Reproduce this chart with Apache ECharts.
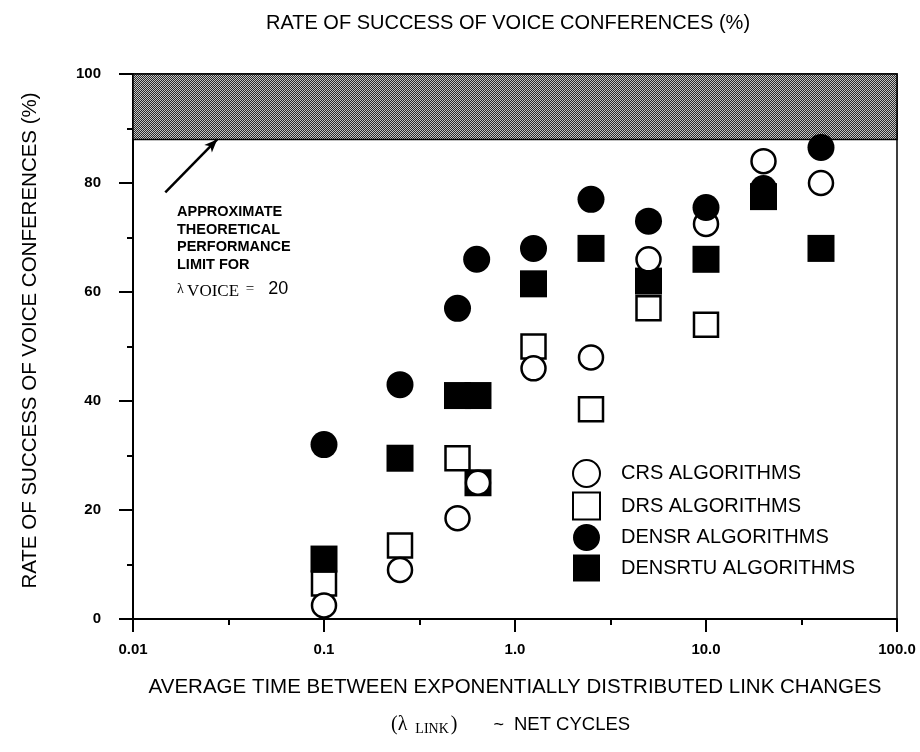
<!DOCTYPE html>
<html>
<head>
<meta charset="utf-8">
<script src="https://cdn.jsdelivr.net/npm/echarts@6/dist/echarts.min.js"></script>
<style>
html,body{margin:0;padding:0;background:#fff;}
#chart{width:920px;height:752px;}
</style>
</head>
<body>
<div id="chart"></div>
<script>
// ---- data ----
const xTickLabels = {0.01: '0.01', 0.1: '0.1', 1: '1.0', 10: '10.0', 100: '100.0'};
const crsX = [0.1, 0.25, 0.5, 0.64, 1.25, 2.5, 5, 10, 20, 40];
const crsY = [2.5, 9, 18.5, 25, 46, 48, 66, 72.5, 84, 80];
const drsX = [0.1, 0.25, 0.5, 1.25, 2.5, 5, 10];
const drsY = [6.5, 13.5, 29.5, 50, 38.5, 57, 54];
const densrX = [0.1, 0.25, 0.5, 0.63, 1.25, 2.5, 5, 10, 20, 40];
const densrY = [32, 43, 57, 66, 68, 77, 73, 75.5, 79, 86.5];
const densrtuX = [0.1, 0.25, 0.5, 0.64, 0.64, 1.25, 2.5, 5, 10, 20, 40];
const densrtuY = [11, 29.5, 41, 41, 25, 61.5, 68, 62, 66, 77.5, 68];
const limitBand = [88, 101];

const pair = (xs, ys) => xs.map((x, i) => [x, ys[i]]);

// dithered pattern for the shaded band
const pc = document.createElement('canvas');
pc.width = 2; pc.height = 2;
const pctx = pc.getContext('2d');
pctx.fillStyle = '#2a2a2a'; pctx.fillRect(0, 0, 2, 2);
pctx.fillStyle = '#c4c4c4';
pctx.fillRect(0, 0, 1, 1); pctx.fillRect(1, 1, 1, 1);

const SANS = '"Liberation Sans", Arial, Helvetica, sans-serif';
const SERIF = '"Liberation Serif", "DejaVu Serif", serif';

const openStyle = {color: '#fff', borderColor: '#000', borderWidth: 2.5, opacity: 1};
const fillStyle = {color: '#000', borderColor: '#000', borderWidth: 0, opacity: 1};

const chart = echarts.init(document.getElementById('chart'), null, {renderer: 'canvas'});
chart.setOption({
  animation: false,
  backgroundColor: '#fff',
  textStyle: {fontFamily: SANS, color: '#000'},
  title: {
    text: 'RATE OF SUCCESS OF VOICE CONFERENCES (%)',
    left: 503, top: 8, textAlign: 'center',
    textStyle: {fontFamily: SANS, fontWeight: 'normal', fontSize: 20, color: '#000'}
  },
  grid: {left: 133, right: 23, top: 74, bottom: 133, show: true, borderColor: '#000', borderWidth: 1.5, backgroundColor: 'transparent'},
  legend: {
    orient: 'vertical', left: 572, top: 459, padding: 0, itemGap: 3.5, itemWidth: 27, itemHeight: 27,
    data: ['CRS ALGORITHMS', 'DRS ALGORITHMS', 'DENSR ALGORITHMS', 'DENSRTU ALGORITHMS'],
    textStyle: {fontFamily: SANS, fontSize: 20, color: '#000', padding: [0, 0, 0, 16]}
  },
  xAxis: [{
    type: 'log', logBase: 10, min: 0.01, max: 100,
    axisLine: {show: true, onZero: false, lineStyle: {color: '#000', width: 2}},
    axisTick: {show: true, inside: false, length: 13, lineStyle: {color: '#000', width: 2}},
    minorTick: {show: false},
    splitLine: {show: false},
    axisLabel: {margin: 23, fontSize: 15, fontWeight: 'bold', color: '#000', fontFamily: SANS,
      formatter: v => xTickLabels[+v.toPrecision(3)] || ''},
    name: 'AVERAGE TIME BETWEEN EXPONENTIALLY DISTRIBUTED LINK CHANGES',
    nameLocation: 'middle', nameGap: 58,
    nameTextStyle: {fontFamily: SANS, fontSize: 20.5, color: '#000'}
  }, {
    // minor ticks at half-decades (log space)
    type: 'value', min: -2, max: 2, interval: 0.5, position: 'bottom',
    axisLine: {show: false, onZero: false}, splitLine: {show: false}, axisLabel: {show: false},
    axisTick: {show: true, inside: false, length: 6, lineStyle: {color: '#000', width: 2}}
  }],
  yAxis: {
    type: 'value', min: 0, max: 100, interval: 20,
    axisLine: {show: true, onZero: false, lineStyle: {color: '#000', width: 2}},
    axisTick: {show: true, length: 14, lineStyle: {color: '#000', width: 2}},
    minorTick: {show: true, splitNumber: 2, length: 6, lineStyle: {color: '#000', width: 2}},
    splitLine: {show: false},
    axisLabel: {margin: 32, fontSize: 15, fontWeight: 'bold', color: '#000', fontFamily: SANS},
    name: 'RATE OF SUCCESS OF VOICE CONFERENCES (%)',
    nameLocation: 'middle', nameGap: 92, nameRotate: 90,
    nameTextStyle: {fontFamily: SANS, fontSize: 20.5, color: '#000', padding: [0, 0, 0, 12]}
  },
  graphic: [
    {type: 'text', left: 177, top: 203, style: {text: 'APPROXIMATE\nTHEORETICAL\nPERFORMANCE\nLIMIT FOR', font: 'bold 14.5px ' + SANS, fill: '#000', lineHeight: 17.7}},
    {type: 'text', left: 177, top: 280, style: {
      text: '{l|λ} {v|VOICE}  {e|=}   {n|20}',
      rich: {
        l: {fontFamily: SERIF, fontSize: 14, fill: '#000', padding: [0,0,5,0]},
        v: {fontFamily: SERIF, fontSize: 17, fill: '#000'},
        e: {fontFamily: SERIF, fontSize: 15, fill: '#000', padding: [0,0,5,0]},
        n: {fontFamily: SANS, fontSize: 18, fill: '#000', padding: [0,0,5,4]}
      }}},
    {type: 'text', left: 391, top: 715, style: {
      text: '{p|(λ}{s|LINK}{p|)}{t|~}{u|NET CYCLES}',
      rich: {
        p: {fontFamily: SERIF, fontSize: 20, fill: '#000'},
        s: {fontFamily: SERIF, fontSize: 14, fill: '#000', padding: [8, 2, 0, 8]},
        t: {fontFamily: SANS, fontSize: 18, fill: '#000', padding: [0, 0, 0, 36]},
        u: {fontFamily: SANS, fontSize: 18.5, fill: '#000', padding: [0, 0, 0, 10]}
      }}}
  ],
  series: [
    {name: 'DRS ALGORITHMS', type: 'scatter', symbol: 'rect', symbolSize: 24, clip: false,
      itemStyle: openStyle, data: pair(drsX, drsY), z: 3,
      markArea: {silent: true, itemStyle: {color: {image: pc, repeat: 'repeat'}, borderColor: '#000', borderWidth: 1.5},
        data: [[{yAxis: limitBand[0], xAxis: 0.01}, {yAxis: limitBand[1], xAxis: 100}]]},
      markLine: {silent: true, symbol: ['none', 'arrow'], symbolSize: [8, 13],
        lineStyle: {color: '#000', width: 2.5, type: 'solid'}, label: {show: false},
        data: [[{coord: [0.01476, 78.3]}, {coord: [0.0276, 88]}]]}
    },
    {name: 'DENSRTU ALGORITHMS', type: 'scatter', symbol: 'rect', symbolSize: 27,
      itemStyle: fillStyle, data: pair(densrtuX, densrtuY), z: 4},
    {name: 'CRS ALGORITHMS', type: 'scatter', symbol: 'circle', symbolSize: 24,
      itemStyle: openStyle, data: pair(crsX, crsY), z: 5},
    {name: 'DENSR ALGORITHMS', type: 'scatter', symbol: 'circle', symbolSize: 27,
      itemStyle: fillStyle, data: pair(densrX, densrY), z: 6}
  ]
});
</script>
</body>
</html>
